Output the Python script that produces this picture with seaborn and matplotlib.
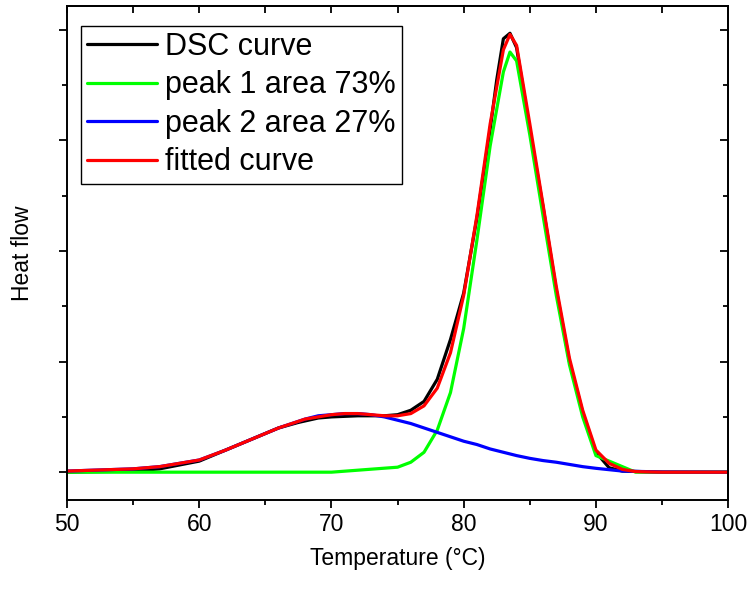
import matplotlib
matplotlib.use("Agg")
import matplotlib.pyplot as plt
import seaborn as sns
import pandas as pd
from matplotlib.ticker import MultipleLocator, NullFormatter

# data (heat flow in arbitrary units, 1 unit = one major y tick)
dsc_T = [50, 55, 57, 60, 62, 64, 65, 66, 67.5, 69, 70, 72, 74, 75, 76, 77, 78, 79, 80, 81,
         82, 82.5, 83, 83.5, 84, 85, 86, 87, 88, 89, 90, 91, 92, 95, 100]
dsc_hf = [0.0, 0.01, 0.03, 0.10, 0.20, 0.30, 0.35, 0.40, 0.45, 0.49, 0.50, 0.51, 0.51, 0.52,
          0.56, 0.64, 0.84, 1.20, 1.62, 2.30, 3.10, 3.55, 3.92, 3.97, 3.84, 3.10, 2.40, 1.65,
          1.00, 0.54, 0.18, 0.04, 0.01, 0.0, 0.0]

peak1_T = [50, 60, 69, 70, 75, 76, 77, 78, 79, 80, 81, 82, 83, 83.5, 84, 85, 86, 87, 88, 89,
           90, 93, 100]
peak1_hf = [0.0, 0.0, 0.0, 0.0, 0.045, 0.09, 0.18, 0.38, 0.72, 1.30, 2.10, 2.95, 3.62, 3.80,
            3.72, 3.05, 2.32, 1.60, 0.97, 0.50, 0.15, 0.0, 0.0]

peak2_T = [50, 55, 57, 60, 62, 64, 66, 68, 69, 70, 71, 72, 73, 74, 75, 76, 77, 78, 79, 80,
           81, 82, 83, 84, 85, 86, 87, 88, 89, 90, 92, 95, 100]
peak2_hf = [0.01, 0.03, 0.05, 0.11, 0.20, 0.30, 0.40, 0.48, 0.51, 0.52, 0.53, 0.53, 0.52,
            0.50, 0.47, 0.44, 0.40, 0.36, 0.32, 0.28, 0.25, 0.21, 0.18, 0.15, 0.125, 0.105,
            0.09, 0.07, 0.05, 0.035, 0.01, 0.002, 0.0]

fit_T = [50, 55, 57, 60, 62, 64, 66, 68, 70, 71, 72, 73, 74, 75, 76, 77, 78, 79, 80, 81,
         82, 83, 83.5, 84, 85, 86, 87, 88, 89, 90, 91, 92, 93, 95, 100]
fit_hf = [0.01, 0.03, 0.05, 0.11, 0.20, 0.30, 0.40, 0.48, 0.52, 0.53, 0.53, 0.52, 0.51, 0.51,
          0.53, 0.60, 0.76, 1.08, 1.60, 2.32, 3.15, 3.82, 3.96, 3.86, 3.15, 2.42, 1.68, 1.03,
          0.56, 0.20, 0.08, 0.025, 0.005, 0.0, 0.0]

labels = ["DSC curve", "peak 1 area 73%", "peak 2 area 27%", "fitted curve"]
colors = ["#000000", "#00ff00", "#0000ff", "#ff0000"]

df = pd.concat([
    pd.DataFrame({"T": dsc_T, "hf": dsc_hf, "curve": labels[0]}),
    pd.DataFrame({"T": peak1_T, "hf": peak1_hf, "curve": labels[1]}),
    pd.DataFrame({"T": peak2_T, "hf": peak2_hf, "curve": labels[2]}),
    pd.DataFrame({"T": fit_T, "hf": fit_hf, "curve": labels[3]}),
], ignore_index=True)

sns.set_style("ticks")
plt.rcParams["font.family"] = ["Liberation Sans", "DejaVu Sans"]
plt.rcParams.update({"text.color": "black", "axes.labelcolor": "black",
                     "xtick.color": "black", "ytick.color": "black"})

fig = plt.figure(figsize=(7.53, 5.94), dpi=100)
ax = fig.add_axes([0.089, 0.158, 0.878, 0.832])

sns.lineplot(data=df, x="T", y="hf", hue="curve", hue_order=labels, palette=colors,
             sort=False, estimator=None, linewidth=2.3, ax=ax)

ax.set_xlim(50, 100)
ax.set_ylim(-0.253, 4.217)
ax.xaxis.set_major_locator(MultipleLocator(10))
ax.xaxis.set_minor_locator(MultipleLocator(5))
ax.yaxis.set_major_locator(MultipleLocator(1))
ax.yaxis.set_minor_locator(MultipleLocator(0.5))
ax.yaxis.set_major_formatter(NullFormatter())
ax.tick_params(which="major", direction="out", length=6, width=1.3, labelsize=16.5)
ax.tick_params(which="minor", direction="out", length=3.5, width=1.3)
for s in ax.spines.values():
    s.set_linewidth(1.4)
    s.set_color("black")

# mirrored ticks on top and right, pointing inward
top = ax.secondary_xaxis("top")
top.xaxis.set_major_locator(MultipleLocator(10))
top.xaxis.set_minor_locator(MultipleLocator(5))
top.tick_params(which="both", direction="in", length=5, width=1.3, labeltop=False)
top.spines["top"].set_linewidth(1.4)
right = ax.secondary_yaxis("right")
right.yaxis.set_major_locator(MultipleLocator(1))
right.yaxis.set_minor_locator(MultipleLocator(0.5))
right.tick_params(which="major", direction="in", length=6, width=1.3, labelright=False)
right.tick_params(which="minor", direction="in", length=3.5, width=1.3)
right.spines["right"].set_linewidth(1.4)

ax.set_xlabel("Temperature (°C)", fontsize=16.5, labelpad=8)
ax.set_ylabel("Heat flow", fontsize=16.5, labelpad=14)

leg = ax.legend(loc="upper left", bbox_to_anchor=(0.021, 0.96), fontsize=22, frameon=True,
                fancybox=False, edgecolor="black", framealpha=1, handlelength=2.3,
                handletextpad=0.25, labelspacing=0.28, borderpad=0.2, borderaxespad=0)
leg.get_frame().set_linewidth(1.0)
for line in leg.get_lines():
    line.set_linewidth(2.3)

fig.savefig("out.png", dpi=100)
